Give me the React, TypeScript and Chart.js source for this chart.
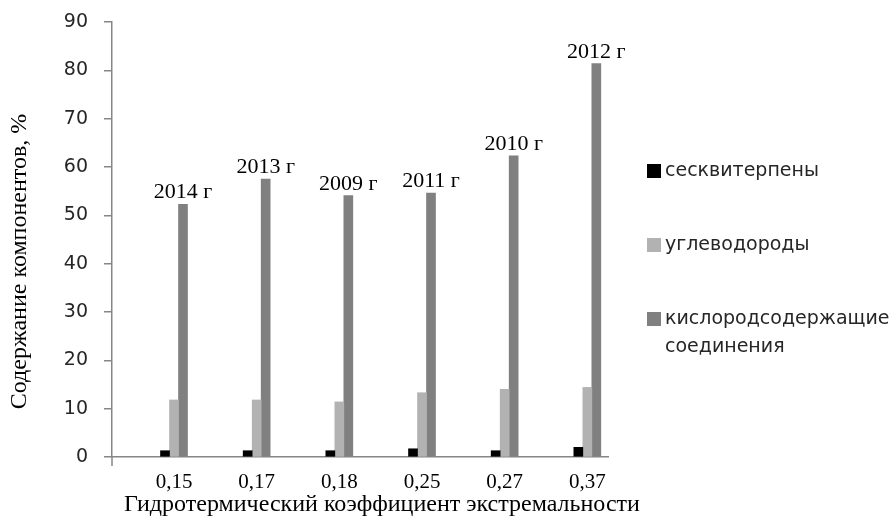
import React, { useEffect, useRef } from "react";
import { Chart, registerables } from "chart.js";

Chart.register(...registerables);

// Hydrothermal extremality coefficient categories and their years
const coefLabels = ["0,15", "0,17", "0,18", "0,25", "0,27", "0,37"];
const yearLabels = ["2014 г", "2013 г", "2009 г", "2011 г", "2010 г", "2012 г"];

// Component content, %
const sesquiterpenes = [1.3, 1.3, 1.3, 1.7, 1.3, 2.0];
const hydrocarbons = [11.8, 11.8, 11.4, 13.3, 14.0, 14.4];
const oxygenated = [52.3, 57.5, 54.1, 54.6, 62.3, 81.4];

const seriesNames = ["сесквитерпены", "углеводороды", "кислородсодержащие\nсоединения"];
const seriesColors = ["#000000", "#b2b2b2", "#808080"];

const yTicks = [0, 10, 20, 30, 40, 50, 60, 70, 80, 90];

const xTitle = "Гидротермический коэффициент экстремальности";
const yTitle = "Содержание компонентов, %";

const AXIS_COLOR = "#868686";
const SERIF = "'Liberation Serif', 'Times New Roman', serif";
const SANS = "'DejaVu Sans', Verdana, sans-serif";

const textPlugin = {
  id: "textLayer",
  afterDraw(chart: any) {
    const { ctx, chartArea, scales } = chart;
    const xs = scales.x;
    const ys = scales.y;
    ctx.save();

    // axis stub below the origin
    ctx.strokeStyle = AXIS_COLOR;
    ctx.lineWidth = 1.5;
    ctx.beginPath();
    ctx.moveTo(chartArea.left, chartArea.bottom);
    ctx.lineTo(chartArea.left, chartArea.bottom + 9);
    ctx.stroke();

    // y tick labels
    ctx.fillStyle = "#262626";
    ctx.font = `19px ${SANS}`;
    ctx.textAlign = "right";
    ctx.textBaseline = "middle";
    yTicks.forEach((v) => {
      ctx.fillText(String(v), chartArea.left - 24, ys.getPixelForValue(v));
    });

    // x tick labels
    ctx.fillStyle = "#000";
    ctx.font = `21px ${SERIF}`;
    ctx.textAlign = "center";
    ctx.textBaseline = "middle";
    coefLabels.forEach((lbl, i) => {
      ctx.fillText(lbl, xs.getPixelForValue(i), chartArea.bottom + 25);
    });

    // x axis title
    ctx.font = `24px ${SERIF}`;
    ctx.fillText(xTitle, (chartArea.left + chartArea.right) / 2 + 22, chartArea.bottom + 48);

    // y axis title
    ctx.save();
    ctx.translate(20, (chartArea.top + chartArea.bottom) / 2 + 22);
    ctx.rotate(-Math.PI / 2);
    ctx.font = `24px ${SERIF}`;
    ctx.fillText(yTitle, 0, 0);
    ctx.restore();

    // year labels above the oxygenated-compounds bars
    const meta = chart.getDatasetMeta(2);
    ctx.font = `22px ${SERIF}`;
    ctx.textBaseline = "alphabetic";
    meta.data.forEach((bar: any, i: number) => {
      ctx.fillText(yearLabels[i], bar.x, bar.y - 6);
    });

    // legend
    const lx = chartArea.right + 39;
    const box = 14;
    ctx.font = `19px ${SANS}`;
    ctx.textAlign = "left";
    ctx.textBaseline = "middle";
    chart.data.datasets.forEach((ds: any, i: number) => {
      const top = 164 + i * 74;
      ctx.fillStyle = ds.backgroundColor;
      ctx.fillRect(lx, top, box, box);
      ctx.fillStyle = "#262626";
      String(ds.label)
        .split("\n")
        .forEach((line: string, j: number) => {
          ctx.fillText(line, lx + box + 4, top + box / 2 + j * 28);
        });
    });

    ctx.restore();
  },
};

export default function App() {
  const canvasRef = useRef<HTMLCanvasElement | null>(null);

  useEffect(() => {
    const canvas = canvasRef.current;
    if (!canvas) return;
    const series = [sesquiterpenes, hydrocarbons, oxygenated];
    const chart = new Chart(canvas, {
      type: "bar",
      data: {
        datasets: series.map((vals, s) => ({
          label: seriesNames[s],
          data: vals.map((v, i) => ({ x: i, y: v })),
          backgroundColor: seriesColors[s],
          borderWidth: 0,
          barThickness: 9,
        })),
      },
      options: {
        animation: false,
        responsive: false,
        maintainAspectRatio: false,
        layout: { padding: { left: 0, top: 22, right: 288, bottom: 0 } },
        plugins: {
          legend: { display: false },
          tooltip: { enabled: false },
        },
        scales: {
          x: {
            type: "linear",
            min: -0.75,
            max: 5.25,
            offset: false,
            ticks: { display: false },
            grid: { display: false, offset: false },
            border: { display: true, color: AXIS_COLOR, width: 1.5 },
            afterFit: (scale: any) => {
              scale.height = 65;
            },
          },
          y: {
            min: 0,
            max: 90,
            ticks: { display: false, stepSize: 10 },
            grid: {
              drawOnChartArea: false,
              drawTicks: true,
              tickLength: 8,
              color: AXIS_COLOR,
              lineWidth: 1.5,
            },
            border: { display: true, color: AXIS_COLOR, width: 1.5 },
            afterFit: (scale: any) => {
              scale.width = 112;
            },
          },
        },
      },
      plugins: [textPlugin],
    } as any);
    return () => chart.destroy();
  }, []);

  return (
    <div style={{ position: "absolute", left: 0, top: 0, width: 896, height: 522, background: "#fff" }}>
      <canvas ref={canvasRef} width={896} height={522} />
    </div>
  );
}
